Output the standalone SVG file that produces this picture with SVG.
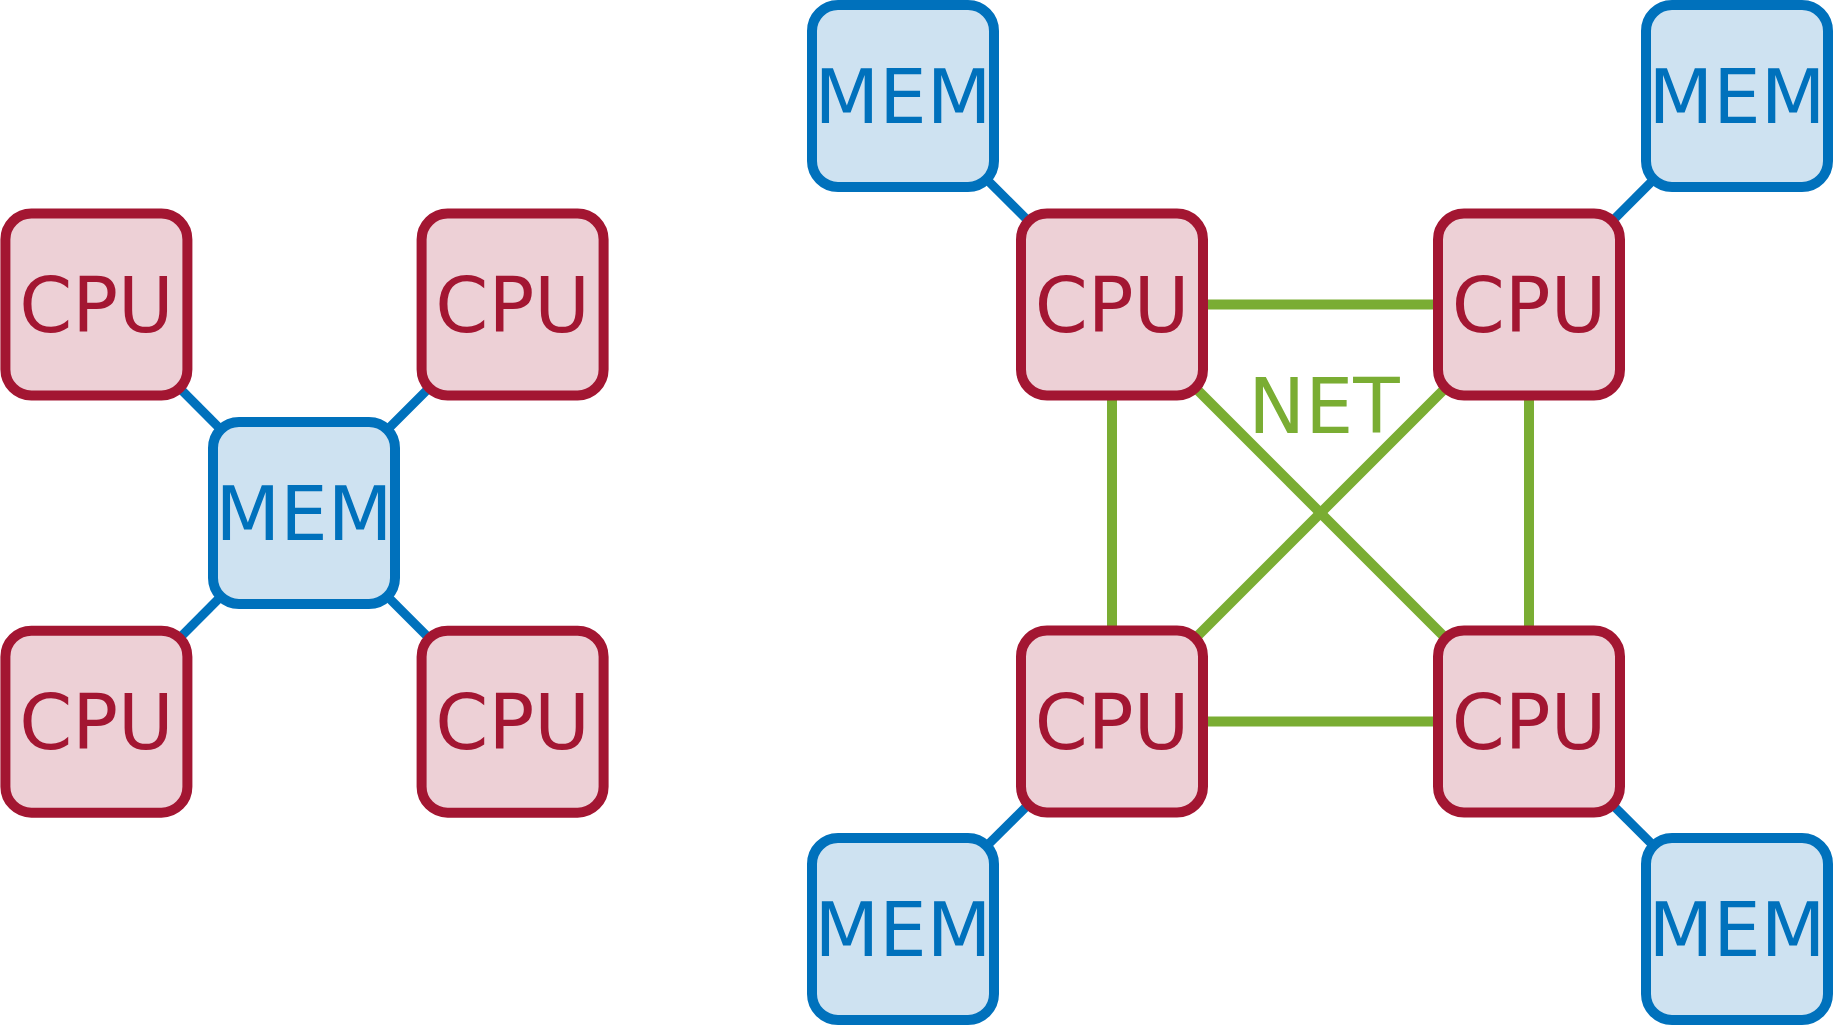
<svg xmlns="http://www.w3.org/2000/svg" width="1833" height="1025" viewBox="0 0 1833 1025">
<style>
.cpu rect{fill:#EDD0D6;stroke:#A31632;stroke-width:10}
.mem rect{fill:#CEE2F1;stroke:#0071BC;stroke-width:10}
.cpu text{fill:#A31632}
.mem text{fill:#0071BC}
text{font-family:"DejaVu Sans",sans-serif;font-size:76px;text-anchor:middle}
.mem text{font-size:75px}
.b{stroke:#0071BC;stroke-width:9}
.g{stroke:#7AAD33;stroke-width:10}
</style>
<rect width="1833" height="1025" fill="#fff"/>
<g id="connectors">
<line class="b" x1="304" y1="513" x2="96.4" y2="304.5"/>
<line class="b" x1="304" y1="513" x2="512.6" y2="304.5"/>
<line class="b" x1="304" y1="513" x2="96.4" y2="721.7"/>
<line class="b" x1="304" y1="513" x2="512.6" y2="721.7"/>
<line class="b" x1="903" y1="96" x2="1112" y2="304.5"/>
<line class="b" x1="1737" y1="96" x2="1529" y2="304.5"/>
<line class="b" x1="903" y1="929" x2="1112" y2="721.5"/>
<line class="b" x1="1737" y1="929" x2="1529" y2="721.5"/>
<line class="g" x1="1112" y1="304.5" x2="1529" y2="304.5"/>
<line class="g" x1="1112" y1="721.5" x2="1529" y2="721.5"/>
<line class="g" x1="1112" y1="304.5" x2="1112" y2="721.5"/>
<line class="g" x1="1529" y1="304.5" x2="1529" y2="721.5"/>
<line class="g" x1="1112" y1="304.5" x2="1529" y2="721.5"/>
<line class="g" x1="1529" y1="304.5" x2="1112" y2="721.5"/>
<text x="1324" y="432.5" fill="#7AAD33">NET</text>
</g>
<g id="l-cpu1" class="cpu"><rect x="5.4" y="213.5" width="182" height="182" rx="26"/><text x="96.4" y="332.2">CPU</text></g>
<g id="l-cpu2" class="cpu"><rect x="421.6" y="213.5" width="182" height="182" rx="26"/><text x="512.6" y="332.2">CPU</text></g>
<g id="l-cpu3" class="cpu"><rect x="5.4" y="630.7" width="182" height="182" rx="26"/><text x="96.4" y="749.4">CPU</text></g>
<g id="l-cpu4" class="cpu"><rect x="421.6" y="630.7" width="182" height="182" rx="26"/><text x="512.6" y="749.4">CPU</text></g>
<g id="l-mem" class="mem"><rect x="213" y="422" width="182" height="182" rx="26"/><text x="304" y="540.3">MEM</text></g>
<g id="r-mem1" class="mem"><rect x="812" y="5" width="182" height="182" rx="26"/><text x="903" y="123.3">MEM</text></g>
<g id="r-mem2" class="mem"><rect x="1646" y="5" width="182" height="182" rx="26"/><text x="1737" y="123.3">MEM</text></g>
<g id="r-mem3" class="mem"><rect x="812" y="838" width="182" height="182" rx="26"/><text x="903" y="956.3">MEM</text></g>
<g id="r-mem4" class="mem"><rect x="1646" y="838" width="182" height="182" rx="26"/><text x="1737" y="956.3">MEM</text></g>
<g id="r-cpu1" class="cpu"><rect x="1021" y="213.5" width="182" height="182" rx="26"/><text x="1112" y="332.2">CPU</text></g>
<g id="r-cpu2" class="cpu"><rect x="1438" y="213.5" width="182" height="182" rx="26"/><text x="1529" y="332.2">CPU</text></g>
<g id="r-cpu3" class="cpu"><rect x="1021" y="630.5" width="182" height="182" rx="26"/><text x="1112" y="749.2">CPU</text></g>
<g id="r-cpu4" class="cpu"><rect x="1438" y="630.5" width="182" height="182" rx="26"/><text x="1529" y="749.2">CPU</text></g>
</svg>
